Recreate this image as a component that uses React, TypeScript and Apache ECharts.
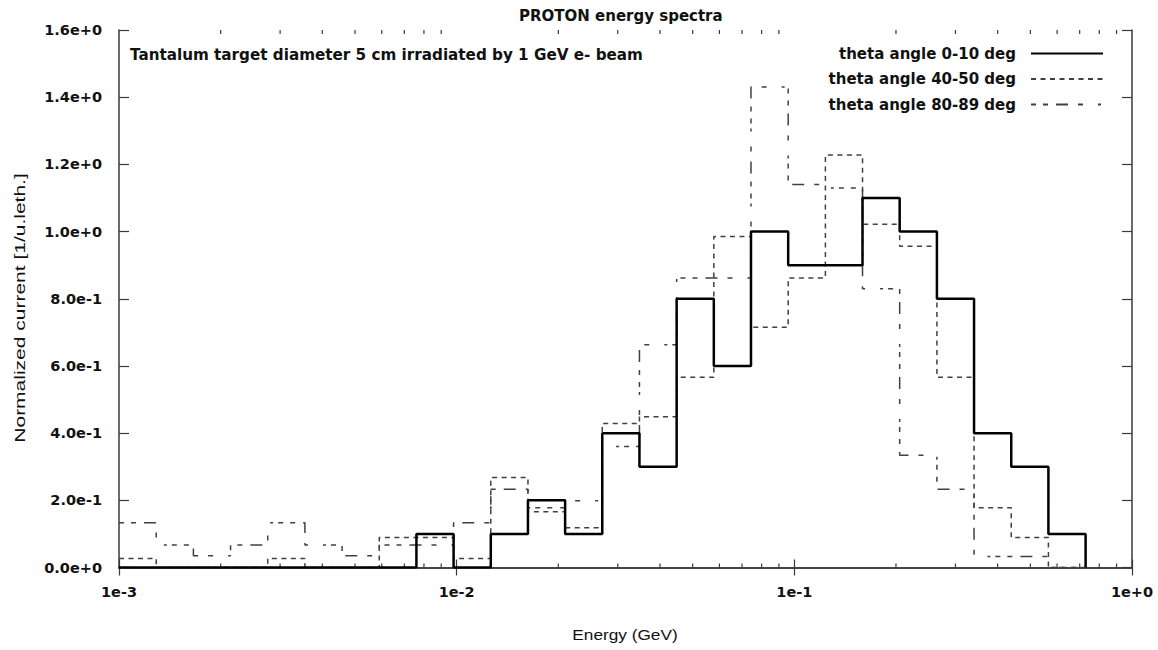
import React, { useEffect, useRef } from "react";
import * as echarts from "echarts";

// Histogram bin edges (GeV)
const binEdges = [
  0.001, 0.001289, 0.001661, 0.00214, 0.002757, 0.003553, 0.004578, 0.005898,
  0.0076, 0.009793, 0.01262, 0.01626, 0.02095, 0.02699, 0.03478, 0.04482,
  0.05775, 0.07441, 0.0959, 0.1236, 0.1592, 0.2051, 0.2644, 0.3406, 0.4389,
  0.5655, 0.7288,
];

// Bin contents, one per bin
const theta0to10 = [
  0, 0, 0, 0, 0, 0, 0, 0, 0.1, 0, 0.1, 0.2, 0.1, 0.4, 0.3, 0.8, 0.6, 1.0, 0.9,
  0.9, 1.1, 1.0, 0.8, 0.4, 0.3, 0.1,
];
const theta40to50 = [
  0.027, 0, 0, 0, 0.027, 0, 0, 0.089, 0.089, 0.027, 0.268, 0.166, 0.118, 0.429,
  0.449, 0.566, 0.985, 0.715, 0.862, 1.228, 1.022, 0.956, 0.566, 0.178, 0.089,
  0,
];
const theta80to89 = [
  0.133, 0.067, 0.035, 0.067, 0.133, 0.067, 0.035, 0.067, 0.067, 0.133, 0.233,
  0.178, 0.199, 0.36, 0.663, 0.862, 0.862, 1.43, 1.14, 1.13, 0.83, 0.334, 0.233,
  0.033, 0.033, 0,
];

const seriesNames = [
  "theta angle 0-10 deg",
  "theta angle 40-50 deg",
  "theta angle 80-89 deg",
];

// Axis ticks
const decades = [0.001, 0.01, 0.1];
const minorMultipliers = [2, 3, 4, 5, 6, 7, 8, 9];

const FONT = "'DejaVu Sans', 'Liberation Sans', sans-serif";
const AXIS_COLOR = "#3a3a3a";

function stepData(values: number[]) {
  const pts: [number, number][] = values.map((v, i) => [binEdges[i], v]);
  pts.push([binEdges[values.length], 0]);
  return pts;
}

function expLabel(v: number) {
  const e = Math.round(Math.log10(v));
  return "1e" + (e >= 0 ? "+" + e : String(e));
}

export default function App() {
  const ref = useRef<HTMLDivElement>(null);

  useEffect(() => {
    if (!ref.current) return;
    const chart = echarts.init(ref.current, undefined, { renderer: "svg" });

    const minorTicks: [number, number][] = [];
    decades.forEach((d) =>
      minorMultipliers.forEach((m) => minorTicks.push([d * m, 0]))
    );

    const option: any = {
      animation: false,
      backgroundColor: "#ffffff",
      title: {
        text: "PROTON energy spectra",
        left: 514,
        top: 3,
        textStyle: {
          fontFamily: FONT,
          fontSize: 15,
          fontWeight: "bold",
          color: "#111",
        },
      },
      legend: {
        data: seriesNames,
        orient: "vertical",
        right: 49,
        top: 41,
        align: "right",
        itemWidth: 72,
        itemHeight: 16,
        itemGap: 10.5,
        selectedMode: false,
        itemStyle: { opacity: 0 },
        textStyle: {
          fontFamily: FONT,
          fontSize: 15,
          fontWeight: "bold",
          color: "#111",
          padding: [0, 10, 0, 0],
        },
      },
      grid: {
        left: 119,
        right: 26,
        top: 30,
        bottom: 82.5,
        containLabel: false,
      },
      xAxis: [
        {
          type: "log",
          logBase: 10,
          min: 0.001,
          max: 1,
          position: "bottom",
          axisLine: { show: true, lineStyle: { color: AXIS_COLOR, width: 1.5 } },
          axisTick: {
            show: true,
            inside: true,
            length: 8,
            lineStyle: { color: AXIS_COLOR, width: 1.2 },
          },
          axisLabel: {
            show: true,
            margin: 17,
            formatter: expLabel,
            fontFamily: FONT,
            fontSize: 14.5,
            fontWeight: "bold",
            color: "#111",
          },
          splitLine: { show: false },
        },
        {
          type: "log",
          logBase: 10,
          min: 0.001,
          max: 1,
          position: "top",
          axisLine: { show: true, lineStyle: { color: AXIS_COLOR, width: 1.5 } },
          axisTick: {
            show: true,
            inside: true,
            length: 8,
            lineStyle: { color: AXIS_COLOR, width: 1.2 },
          },
          axisLabel: { show: false },
          splitLine: { show: false },
        },
      ],
      yAxis: [
        {
          type: "value",
          min: 0,
          max: 1.6,
          interval: 0.2,
          position: "left",
          axisLine: { show: true, lineStyle: { color: AXIS_COLOR, width: 1.5 } },
          axisTick: {
            show: true,
            inside: true,
            length: 10,
            lineStyle: { color: AXIS_COLOR, width: 1.2 },
          },
          axisLabel: {
            margin: 17,
            formatter: (v: number) => v.toExponential(1),
            fontFamily: FONT,
            fontSize: 14.5,
            fontWeight: "bold",
            color: "#111",
          },
          splitLine: { show: false },
        },
        {
          type: "value",
          min: 0,
          max: 1.6,
          interval: 0.2,
          position: "right",
          axisLine: { show: true, lineStyle: { color: AXIS_COLOR, width: 1.5 } },
          axisTick: {
            show: true,
            inside: true,
            length: 10,
            lineStyle: { color: AXIS_COLOR, width: 1.2 },
          },
          axisLabel: { show: false },
          splitLine: { show: false },
        },
      ],
      graphic: [
        {
          type: "text",
          left: 130,
          top: 47,
          style: {
            text: "Tantalum target diameter 5 cm irradiated by 1 GeV e- beam",
            font: "bold 15.2px " + FONT,
            fill: "#111",
          },
        },
        {
          type: "text",
          x: 625,
          y: 634,
          style: {
            text: "Energy (GeV)",
            font: "15px 'Liberation Sans', Arial, sans-serif",
            fill: "#111",
            align: "center",
            verticalAlign: "middle",
          },
          scaleX: 1.15,
        },
        {
          type: "text",
          x: 20,
          y: 308,
          rotation: Math.PI / 2,
          scaleX: 1.4,
          style: {
            text: "Normalized current [1/u.leth.]",
            font: "15px 'Liberation Sans', Arial, sans-serif",
            fill: "#111",
            align: "center",
            verticalAlign: "middle",
          },
        },
      ],
      series: [
        {
          type: "custom",
          name: "minorTicks",
          silent: true,
          xAxisIndex: 0,
          yAxisIndex: 0,
          data: minorTicks,
          renderItem: (params: any, api: any) => {
            const x = api.coord([api.value(0), 0])[0];
            const cs = params.coordSys;
            const st = { stroke: AXIS_COLOR, lineWidth: 1.2 };
            return {
              type: "group",
              children: [
                {
                  type: "line",
                  shape: { x1: x, y1: cs.y + cs.height, x2: x, y2: cs.y + cs.height - 4 },
                  style: st,
                },
                {
                  type: "line",
                  shape: { x1: x, y1: cs.y, x2: x, y2: cs.y + 4 },
                  style: st,
                },
              ],
            };
          },
        },
        {
          name: seriesNames[2],
          type: "line",
          step: "end",
          symbol: "none",
          data: stepData(theta80to89),
          lineStyle: {
            color: "#404040",
            width: 1.5,
            type: [5, 7, 5, 8, 12, 10, 5, 15, 3, 5],
          },
          itemStyle: { color: "#404040" },
        },
        {
          name: seriesNames[1],
          type: "line",
          step: "end",
          symbol: "none",
          data: stepData(theta40to50),
          lineStyle: { color: "#404040", width: 1.5, type: [5, 4.5] },
          itemStyle: { color: "#404040" },
        },
        {
          name: seriesNames[0],
          type: "line",
          step: "end",
          symbol: "none",
          data: stepData(theta0to10),
          lineStyle: { color: "#000", width: 2.5, type: "solid" },
          itemStyle: { color: "#000" },
        },
      ],
    };

    chart.setOption(option);
    return () => chart.dispose();
  }, []);

  return (
    <div
      ref={ref}
      style={{ position: "fixed", left: 0, top: 0, width: 1158, height: 650 }}
    />
  );
}
